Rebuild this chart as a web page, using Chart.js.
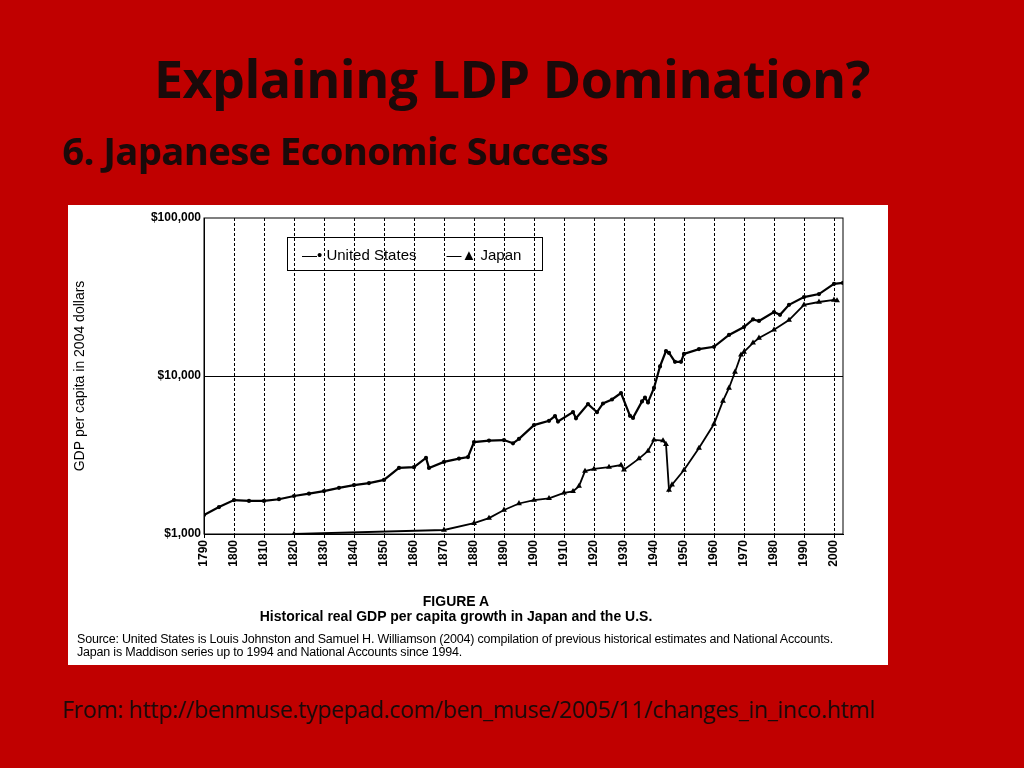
<!DOCTYPE html>
<html><head><meta charset="utf-8">
<script src="https://cdn.jsdelivr.net/npm/chart.js@4"></script>
<style>
body{margin:0;width:1024px;height:768px;background:#c00000;position:relative;overflow:hidden;font-family:"Open Sans",sans-serif}
#t1{position:absolute;left:0;width:1024px;top:42px;text-align:center;font-weight:bold;font-size:52px;color:#1a0a0a;letter-spacing:-0.5px}
#t2{position:absolute;left:62px;top:124px;font-weight:bold;font-size:38px;color:#1a0a0a;letter-spacing:-0.5px}
#box{position:absolute;left:68px;top:205px;width:820px;height:460px;background:#fff}
#c{position:absolute;left:0;top:0}
#leg{position:absolute;left:219px;top:32px;width:256px;height:34px;border:1px solid #000;font:15px "Liberation Sans",Arial;display:flex;align-items:center;box-sizing:border-box;padding-left:14px}
.fa{position:absolute;left:0;width:820px;text-align:center;font:bold 14px "Liberation Sans",Arial}
#src{position:absolute;left:9px;top:428px;font:12.5px "Liberation Sans",Arial;line-height:13px;letter-spacing:-0.2px}
#from{position:absolute;left:62px;top:693px;font-size:23px;color:#1a0a0a;letter-spacing:-0.3px}
</style></head><body>
<div id="t1">Explaining LDP Domination?</div>
<div id="t2">6. Japanese Economic Success</div>
<div id="box"><canvas id="c" width="820" height="395" style="width:820px;height:395px"></canvas>
<div id="leg"><span>&#8212;&#8226; United States</span><span style="margin-left:30px">&#8212;&#9650; Japan</span></div>
<div class="fa" style="top:388px;left:-22px">FIGURE A</div>
<div class="fa" style="top:403px;left:-22px">Historical real GDP per capita growth in Japan and the U.S.</div>
<div id="src">Source: United States is Louis Johnston and Samuel H. Williamson (2004) compilation of previous historical estimates and National Accounts.<br>Japan is Maddison series up to 1994 and National Accounts since 1994.</div>
</div>
<div id="from">From: http://benmuse.typepad.com/ben_muse/2005/11/changes_in_inco.html</div>
<script>
const usYears=[1790,1795,1800,1805,1810,1815,1820,1825,1830,1835,1840,1845,1850,1855,1860,1864,1865,1870,1875,1878,1880,1885,1890,1893,1895,1900,1905,1907,1908,1913,1914,1918,1921,1923,1926,1929,1932,1933,1936,1937,1938,1940,1942,1944,1945,1947,1949,1950,1955,1960,1965,1970,1973,1975,1980,1982,1985,1990,1995,2000,2003];
const usValues=[1320,1480,1640,1620,1620,1660,1740,1800,1870,1960,2040,2100,2200,2620,2650,3030,2620,2860,3000,3070,3820,3900,3930,3750,4000,4890,5200,5580,5150,5910,5400,6640,5900,6700,7100,7800,5600,5430,6900,7300,6800,8400,11500,14400,14000,12300,12300,13800,14800,15300,18200,20400,22800,22300,25400,24400,28200,31600,33000,38300,38800];
const jpYears=[1820,1870,1880,1885,1890,1895,1900,1905,1910,1913,1915,1917,1920,1925,1929,1930,1935,1938,1940,1943,1944,1945,1946,1950,1955,1960,1963,1965,1967,1969,1970,1973,1975,1980,1985,1990,1995,2000,2001];
const jpValues=[1000,1060,1170,1260,1420,1560,1640,1680,1820,1860,2010,2500,2580,2650,2730,2550,3000,3350,3940,3900,3700,1900,2050,2540,3500,4970,6950,8400,10600,13600,14200,16200,17400,19600,22600,28200,29400,30300,30000];
const yTicks=[1000,10000,100000];
const xTicks=[1790,1800,1810,1820,1830,1840,1850,1860,1870,1880,1890,1900,1910,1920,1930,1940,1950,1960,1970,1980,1990,2000];
const pts=(xs,ys)=>xs.map((x,i)=>({x,y:ys[i]}));
new Chart(document.getElementById('c'),{type:'scatter',
data:{datasets:[
{label:'United States',data:pts(usYears,usValues),showLine:true,borderColor:'#000',backgroundColor:'#000',borderWidth:2.2,pointRadius:1,pointStyle:'circle'},
{label:'Japan',data:pts(jpYears,jpValues),showLine:true,borderColor:'#000',backgroundColor:'#000',borderWidth:1.8,pointRadius:1.6,pointStyle:'triangle'}]},
options:{responsive:false,animation:false,layout:{padding:{top:13,right:45,left:0,bottom:0}},
plugins:{legend:{display:false},tooltip:{enabled:false}},
scales:{
x:{type:'linear',min:1790,max:2003,afterBuildTicks:a=>{a.ticks=xTicks.map(v=>({value:v}))},afterFit:a=>{a.height=66},
 ticks:{minRotation:90,maxRotation:90,color:'#000',font:{family:'Liberation Sans',size:12,weight:'bold'},padding:2,callback:v=>String(v)},
 grid:{color:'rgba(0,0,0,0)',tickColor:'#000',tickLength:4},border:{display:true,color:'#000'}},
y:{type:'logarithmic',min:1000,max:100000,afterBuildTicks:a=>{a.ticks=yTicks.map(v=>({value:v}))},afterFit:a=>{a.width=136},
 ticks:{color:'#000',font:{family:'Liberation Sans',size:12,weight:'bold'},callback:v=>'$'+Number(v).toLocaleString('en-US')},
 grid:{color:c=>c.tick&&c.tick.value===10000?'#000':'rgba(0,0,0,0)',tickLength:0},border:{color:'#000'},
 title:{display:true,text:'GDP per capita in 2004 dollars',color:'#000',font:{family:'Liberation Sans',size:14},padding:{bottom:14}}}}},
plugins:[{id:'frame',beforeDatasetsDraw(ch){const c=ch.ctx,a=ch.chartArea,x=ch.scales.x;c.save();c.strokeStyle='#000';c.lineWidth=1;c.setLineDash([3,2]);
 xTicks.forEach(v=>{if(v===1790)return;const px=Math.round(x.getPixelForValue(v))+0.5;c.beginPath();c.moveTo(px,a.top);c.lineTo(px,a.bottom);c.stroke();});
 c.setLineDash([]);c.strokeRect(a.left,a.top,a.right-a.left,a.bottom-a.top);c.restore();}}]
});
</script></body></html>
